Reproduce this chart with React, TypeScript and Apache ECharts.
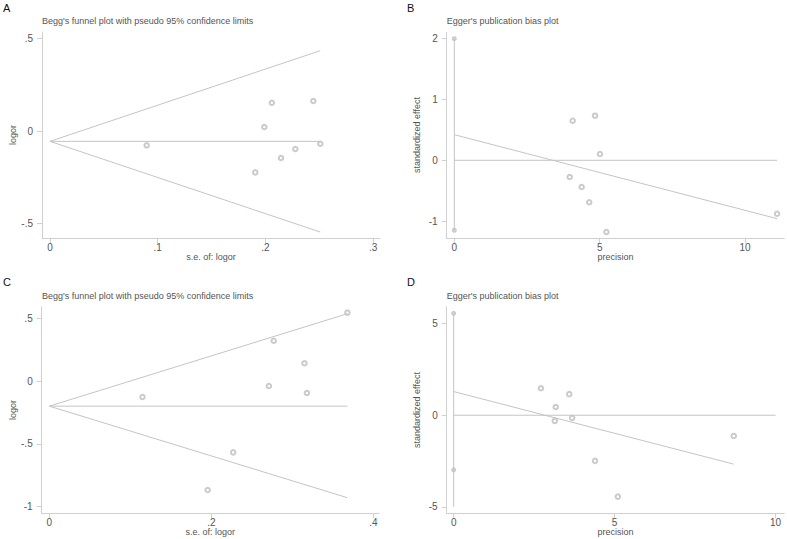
import React, { useEffect, useRef } from "react";
import * as echarts from "echarts";

// ---------- data ----------
// Panel A: Begg's funnel plot
const aSe = [0.0898, 0.199, 0.206, 0.2445, 0.1906, 0.2145, 0.2278, 0.251];
const aLogor = [-0.0775, 0.0217, 0.153, 0.1625, -0.224, -0.146, -0.0975, -0.069];
const aFunnelUpper = [[0, -0.056], [0.251, 0.435]];
const aFunnelLower = [[0, -0.056], [0.251, -0.547]];
const aFunnelMid = [[0, -0.056], [0.251, -0.056]];
const aYTicks = [-0.5, 0, 0.5];
const aXTicks = [0, 0.1, 0.2, 0.3];

// Panel B: Egger's plot
const bPrecision = [4.07, 4.84, 5.01, 3.97, 4.38, 4.64, 5.23, 11.1];
const bStdEffect = [0.651, 0.734, 0.104, -0.275, -0.44, -0.69, -1.18, -0.88];
const bRegLine = [[0, 0.421], [11.1, -0.96]];
const bZeroLine = [[0, 0], [11.1, 0]];
const bCiLine = [[0, 2.0], [0, -1.15]];
const bCiMarks = [[0, 2.0], [0, -1.15]];
const bYTicks = [-1, 0, 1, 2];
const bXTicks = [0, 5, 10];

// Panel C: Begg's funnel plot
const cSe = [0.368, 0.277, 0.315, 0.271, 0.318, 0.115, 0.227, 0.1955];
const cLogor = [0.544, 0.321, 0.141, -0.04, -0.0955, -0.127, -0.568, -0.868];
const cFunnelUpper = [[0, -0.2], [0.368, 0.536]];
const cFunnelLower = [[0, -0.2], [0.368, -0.929]];
const cFunnelMid = [[0, -0.2], [0.368, -0.2]];
const cYTicks = [-1, -0.5, 0, 0.5];
const cXTicks = [0, 0.2, 0.4];

// Panel D: Egger's plot
const dPrecision = [2.71, 3.59, 3.17, 3.14, 3.68, 4.39, 5.1, 8.7];
const dStdEffect = [1.47, 1.15, 0.45, -0.31, -0.147, -2.49, -4.44, -1.13];
const dRegLine = [[0, 1.29], [8.7, -2.67]];
const dZeroLine = [[0, 0], [10, 0]];
const dCiLine = [[0, 5.56], [0, -5.0]];
const dCiMarks = [[0, 5.56], [0, -2.98]];
const dYTicks = [-5, 0, 5];
const dXTicks = [0, 5, 10];

const titleBegg = "Begg's funnel plot with pseudo 95% confidence limits";
const titleEgger = "Egger's publication bias plot";

// ---------- styles ----------
const FONT = "'Liberation Sans', Arial, Helvetica, sans-serif";
const TEXT = "#555555";
const LINE = "#c4c4c4";
const AXIS = "#d0d0d0";
const MARK = "#bdbdbd";

const fmt = (v: number) => {
  if (v === 0) return "0";
  return String(v).replace(/^(-?)0\./, "$1.");
};

const zip = (xs: number[], ys: number[]) => xs.map((x, i) => [x, ys[i]]);

function xAxisDef(grid: number, min: number, max: number, ticks: number[]) {
  return {
    type: "value",
    gridIndex: grid,
    min,
    max,
    splitLine: { show: false },
    axisLine: { show: true, onZero: false, lineStyle: { color: AXIS, width: 1 } },
    axisTick: { show: true, length: 5, customValues: ticks, lineStyle: { color: AXIS } },
    axisLabel: {
      customValues: ticks,
      formatter: fmt,
      color: TEXT,
      fontSize: 10,
      fontFamily: FONT,
      margin: 4,
    },
  };
}

function yAxisDef(grid: number, min: number, max: number, ticks: number[]) {
  return {
    type: "value",
    gridIndex: grid,
    min,
    max,
    splitLine: { show: false },
    axisLine: { show: true, onZero: false, lineStyle: { color: AXIS, width: 1 } },
    axisTick: { show: true, length: 5, customValues: ticks, lineStyle: { color: AXIS } },
    axisLabel: {
      customValues: ticks,
      formatter: fmt,
      color: TEXT,
      fontSize: 10,
      fontFamily: FONT,
      margin: 9,
    },
  };
}

function lineSeries(idx: number, data: number[][]) {
  return {
    type: "line",
    xAxisIndex: idx,
    yAxisIndex: idx,
    data,
    symbol: "none",
    silent: true,
    lineStyle: { color: LINE, width: 1 },
  };
}

function scatterSeries(idx: number, data: number[][], size = 4.5, width = 0.7) {
  return {
    type: "scatter",
    xAxisIndex: idx,
    yAxisIndex: idx,
    data,
    symbol: "emptyCircle",
    symbolSize: size,
    silent: true,
    itemStyle: { color: MARK, borderWidth: width },
  };
}

function txt(x: number, y: number, text: string, opts: any = {}) {
  return {
    type: "text",
    x,
    y,
    rotation: opts.rotation || 0,
    silent: true,
    style: {
      text,
      fill: opts.color || TEXT,
      fontSize: opts.size || 9,
      fontFamily: FONT,
      align: opts.align || "left",
      verticalAlign: "middle",
    },
  };
}

export default function App() {
  const ref = useRef<HTMLDivElement>(null);

  useEffect(() => {
    document.body.style.margin = "0";
    if (!ref.current) return;
    const chart = echarts.init(ref.current, null, { renderer: "svg" });

    const option: any = {
      animation: false,
      backgroundColor: "#ffffff",
      grid: [
        { left: 42, top: 32, width: 338, height: 206.7 },
        { left: 446.7, top: 32.3, width: 337.6, height: 206 },
        { left: 41.7, top: 306.7, width: 337.3, height: 206.6 },
        { left: 446.7, top: 306.7, width: 337.6, height: 206.6 },
      ],
      xAxis: [
        xAxisDef(0, -0.0074, 0.3064, aXTicks),
        xAxisDef(1, -0.262, 11.35, bXTicks),
        xAxisDef(2, -0.0094, 0.407, cXTicks),
        xAxisDef(3, -0.217, 10.27, dXTicks),
      ],
      yAxis: [
        yAxisDef(0, -0.583, 0.536, aYTicks),
        yAxisDef(1, -1.283, 2.105, bYTicks),
        yAxisDef(2, -1.053, 0.5916, cYTicks),
        yAxisDef(3, -5.35, 5.92, dYTicks),
      ],
      series: [
        lineSeries(0, aFunnelUpper),
        lineSeries(0, aFunnelLower),
        lineSeries(0, aFunnelMid),
        scatterSeries(0, zip(aSe, aLogor)),

        lineSeries(1, bCiLine),
        lineSeries(1, bZeroLine),
        lineSeries(1, bRegLine),
        scatterSeries(1, bCiMarks, 3, 0.6),
        scatterSeries(1, zip(bPrecision, bStdEffect)),

        lineSeries(2, cFunnelUpper),
        lineSeries(2, cFunnelLower),
        lineSeries(2, cFunnelMid),
        scatterSeries(2, zip(cSe, cLogor)),

        lineSeries(3, dCiLine),
        lineSeries(3, dZeroLine),
        lineSeries(3, dRegLine),
        scatterSeries(3, dCiMarks, 3, 0.6),
        scatterSeries(3, zip(dPrecision, dStdEffect)),
      ],
      graphic: [
        txt(3, 8, "A", { color: "#111", size: 11 }),
        txt(407, 8, "B", { color: "#111", size: 11 }),
        txt(3, 282, "C", { color: "#111", size: 11 }),
        txt(407, 282, "D", { color: "#111", size: 11 }),

        txt(42, 21, titleBegg),
        txt(446.7, 21, titleEgger),
        txt(42, 296, titleBegg),
        txt(446.7, 296, titleEgger),

        txt(211, 256.7, "s.e. of: logor", { align: "center" }),
        txt(615.5, 256.7, "precision", { align: "center" }),
        txt(210.3, 531.5, "s.e. of: logor", { align: "center" }),
        txt(615.5, 531.5, "precision", { align: "center" }),

        txt(13, 135, "logor", { align: "center", rotation: Math.PI / 2 }),
        txt(417, 135, "standardized effect", { align: "center", rotation: Math.PI / 2 }),
        txt(13, 410, "logor", { align: "center", rotation: Math.PI / 2 }),
        txt(417, 410, "standardized effect", { align: "center", rotation: Math.PI / 2 }),
      ],
    };

    chart.setOption(option);
    return () => chart.dispose();
  }, []);

  return (
    <div
      ref={ref}
      style={{ position: "absolute", left: 0, top: 0, width: 787, height: 539, background: "#fff" }}
    />
  );
}
